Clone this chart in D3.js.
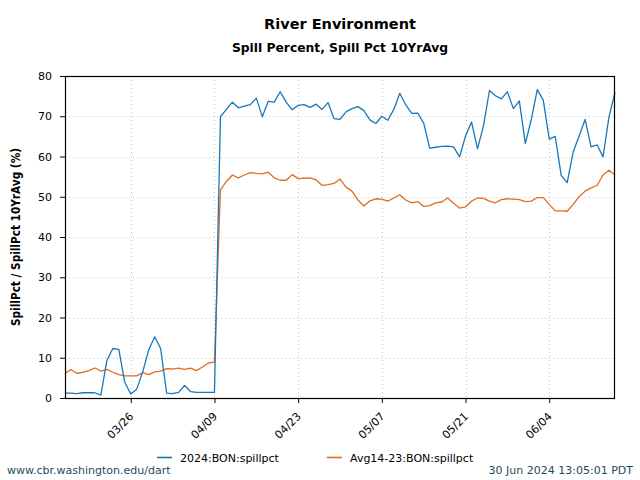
<!DOCTYPE html>
<html><head><meta charset="utf-8">
<script src="https://cdn.jsdelivr.net/npm/d3@7/dist/d3.min.js"></script>
<style>
body{margin:0;background:#fff;}
svg{display:block;font-family:"DejaVu Sans",sans-serif;}
</style></head>
<body>
<svg id="c" width="640" height="480"></svg>
<script>
const startDate = "2024-03-15";
const spill2024 = [1.2,1.2,1.1,1.3,1.3,1.3,0.7,9.3,12.3,12.1,3.9,1.0,2.2,6.5,11.9,15.2,12.3,1.2,1.1,1.4,3.1,1.6,1.4,1.4,1.4,1.4,
69.9,71.7,73.5,72.1,72.5,72.9,74.5,69.9,73.7,73.5,76.1,73.5,71.6,72.7,72.9,72.2,73.0,71.7,73.4,
69.4,69.2,71.1,71.9,72.4,71.4,69.1,68.2,70.0,69.0,71.7,75.7,72.8,70.7,70.8,68.3,62.1,62.3,62.5,
62.6,62.4,59.9,65.1,68.6,61.9,67.6,76.4,75.1,74.3,76.1,71.9,73.8,63.2,69.2,76.6,74.0,64.3,65.0,
55.3,53.5,61.1,65.1,69.2,62.4,62.9,59.9,69.9,75.9];
const spillAvg = [6.1,7.1,6.1,6.4,6.8,7.45,6.7,7.1,6.4,5.8,5.5,5.5,5.5,6.3,5.8,6.5,6.7,7.3,7.2,7.4,7.1,7.4,6.8,7.7,8.7,8.9,
51.7,53.8,55.4,54.7,55.4,56.0,55.8,55.7,56.1,54.7,54.1,54.1,55.5,54.5,54.6,54.7,54.2,52.8,53.0,
53.3,54.4,52.4,51.4,49.2,47.7,49.0,49.5,49.4,48.9,49.7,50.5,49.2,48.5,48.8,47.6,47.8,48.5,48.7,
49.7,48.4,47.2,47.5,48.9,49.7,49.6,48.9,48.5,49.3,49.5,49.4,49.3,48.8,48.9,49.8,49.8,48.1,46.5,
46.5,46.4,48.1,50.0,51.4,52.2,52.8,55.4,56.6,55.4];
const seriesNames = ["2024:BON:spillpct","Avg14-23:BON:spillpct"];
const seriesColors = ["#1a78b8","#e46c1c"];
const yTicks = [0,10,20,30,40,50,60,70,80];
const xTickDates = ["2024-03-26","2024-04-09","2024-04-23","2024-05-07","2024-05-21","2024-06-04"];
const title = "River Environment";
const subtitle = "Spill Percent, Spill Pct 10YrAvg";
const yLabel = "SpillPct / SpillPct 10YrAvg (%)";
const footerLeft = "www.cbr.washington.edu/dart";
const footerRight = "30 Jun 2024 13:05:01 PDT";

const parse = d3.utcParse("%Y-%m-%d");
const t0 = parse(startDate);
const dates = spill2024.map((_, i) => d3.utcDay.offset(t0, i));

const svg = d3.select("#c");
const L = 65, R = 615, T = 76, B = 398;
const x = d3.scaleUtc().domain([dates[0], dates[dates.length-1]]).range([L, R]);
const y = d3.scaleLinear().domain([0, 80]).range([B, T]);

// grid
const grid = svg.append("g").attr("stroke", "#c8c8c8").attr("stroke-dasharray", "1,3").attr("stroke-width", 1);
yTicks.filter(v => v > 0 && v < 80).forEach(v => {
  grid.append("line").attr("x1", L).attr("x2", R).attr("y1", Math.round(y(v))+0.5).attr("y2", Math.round(y(v))+0.5);
});
xTickDates.forEach(s => {
  const xx = Math.round(x(parse(s)))+0.5;
  grid.append("line").attr("x1", xx).attr("x2", xx).attr("y1", T).attr("y2", B);
});

// lines
const line = d3.line().x((d, i) => x(dates[i])).y(d => y(d));
svg.append("path").datum(spillAvg).attr("d", line).attr("fill", "none")
  .attr("stroke", seriesColors[1]).attr("stroke-width", 1.3).attr("stroke-linejoin", "round");
svg.append("path").datum(spill2024).attr("d", line).attr("fill", "none")
  .attr("stroke", seriesColors[0]).attr("stroke-width", 1.3).attr("stroke-linejoin", "round");

// frame
svg.append("rect").attr("x", L+0.5).attr("y", T+0.5).attr("width", R-L-1).attr("height", B-T)
  .attr("fill", "none").attr("stroke", "#000").attr("stroke-width", 1.2);

// axes
const yAxis = d3.axisLeft(y).tickValues(yTicks).tickSize(5).tickPadding(8);
const gy = svg.append("g").attr("transform", `translate(${L},0)`).call(yAxis);
gy.select(".domain").remove();
gy.selectAll("text").attr("font-size", 11).attr("font-family", "DejaVu Sans").attr("fill", "#000");

const fmt = d3.utcFormat("%m/%d");
const xAxis = d3.axisBottom(x).tickValues(xTickDates.map(parse)).tickFormat(fmt).tickSize(5);
const gx = svg.append("g").attr("transform", `translate(0,${B})`).call(xAxis);
gx.select(".domain").remove();
gx.selectAll("text").attr("font-size", 11).attr("font-family", "DejaVu Sans").attr("fill", "#000")
  .attr("text-anchor", "end").attr("dy", null).attr("y", 0)
  .attr("transform", "translate(3,19) rotate(-45)");

// titles
svg.append("text").attr("x", 340).attr("y", 29).attr("text-anchor", "middle")
  .attr("font-size", 14.5).attr("font-weight", "bold").text(title);
svg.append("text").attr("x", 340).attr("y", 52).attr("text-anchor", "middle")
  .attr("font-size", 12.3).attr("font-weight", "bold").text(subtitle);
svg.append("text").attr("transform", `translate(20,${(T+B)/2}) rotate(-90)`).attr("text-anchor", "middle")
  .attr("font-family", "DejaVu Sans Condensed").attr("font-stretch", "condensed")
  .attr("font-size", 12).attr("font-weight", "bold")
  .attr("textLength", 178).attr("lengthAdjust", "spacingAndGlyphs").text(yLabel);

// legend
const legX = [157, 327];
seriesNames.forEach((n, i) => {
  svg.append("line").attr("x1", legX[i]).attr("x2", legX[i]+15).attr("y1", 457.5).attr("y2", 457.5)
    .attr("stroke", seriesColors[i]).attr("stroke-width", 1.6);
  svg.append("text").attr("x", legX[i]+23).attr("y", 461.5).attr("font-size", 11).text(n);
});

// footer
svg.append("text").attr("x", 7).attr("y", 474).attr("font-size", 11).attr("fill", "#1f4a5c").text(footerLeft);
svg.append("text").attr("x", 633).attr("y", 474).attr("text-anchor", "end").attr("font-size", 11).attr("fill", "#1f4a5c").text(footerRight);
</script>
</body></html>
